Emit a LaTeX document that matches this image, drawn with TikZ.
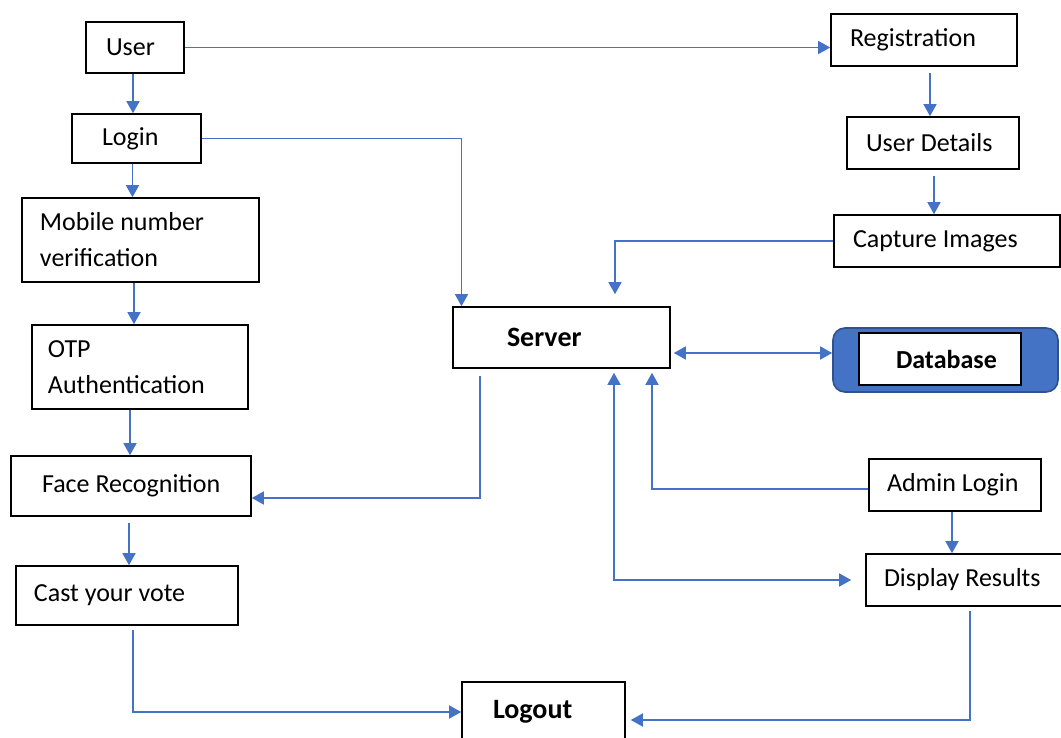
\documentclass[tikz,border=0pt]{standalone}
\usepackage{fontspec}
\setmainfont{Carlito}
\usetikzlibrary{arrows.meta}
\definecolor{flow}{HTML}{4472C4}
\definecolor{dbedge}{HTML}{2F528F}

\begin{document}
\begin{tikzpicture}[x=0.5pt,y=-0.5pt,
  box/.style={draw=black, line width=0.8pt, inner sep=0pt, align=flush left,
              font=\fontsize{13}{18}\selectfont},
  boldtext/.style={font=\fontsize{14}{18}\selectfont\bfseries},
  sz/.style 2 args={text width=#1, minimum height=#2},
  arr/.style={draw=flow, line width=0.7pt, -{Triangle[length=6pt,width=6.5pt]}},
  dbl/.style={draw=flow, line width=0.7pt,
              {Triangle[length=6pt,width=6.5pt]}-{Triangle[length=6pt,width=6.5pt]}}]

\useasboundingbox (0,0) rectangle (1061,738);
\fill[white] (0,0) rectangle (1061,738);
\clip (0,0) rectangle (1061,738);

% ---- user flow (left column) ----
\node[box, sz={49pt}{25.5pt}]    (user)   at (135,47.5)  {\hspace*{10pt}User};
\node[box, sz={64.5pt}{24.5pt}]  (login)  at (136.5,138.5) {\hspace*{15pt}Login};
\node[box, sz={118.5pt}{42pt}]   (mobile) at (140.5,240) {\hspace*{9pt}Mobile number\\\hspace*{9pt}verification};
\node[box, sz={108pt}{42pt}]     (otp)    at (140,367)   {\hspace*{8pt}OTP\\\hspace*{8pt}Authentication};
\node[box, sz={120pt}{30pt}]     (face)   at (131,486)   {\hspace*{15.5pt}Face Recognition};
\node[box, sz={111pt}{29.5pt}]   (cast)   at (127,595.5) {\hspace*{9pt}Cast your vote};

% ---- server and logout ----
\node[box, boldtext, sz={108.5pt}{30.5pt}] (server) at (561.5,337.5) {\hspace*{27pt}Server};
\node[box, boldtext, sz={81.5pt}{30pt}]    (logout) at (543.5,712)   {\hspace*{15.5pt}Logout};

% ---- registration flow (right column) ----
\node[box, sz={93pt}{26pt}]  (reg)     at (924,40)  {\hspace*{9.5pt}Registration};
\node[box, sz={86pt}{26pt}]  (details) at (933,143) {\hspace*{9.5pt}User Details};
\node[box, sz={113pt}{26pt}] (capture) at (947,241) {\hspace*{9.5pt}Capture Images};

% ---- database ----
\node[draw=dbedge, fill=flow, line width=0.8pt, rounded corners=6pt,
      minimum width=112.5pt, minimum height=32pt, inner sep=0pt] (db) at (945.5,360) {};
\node[box, fill=white, font=\fontsize{13}{18}\selectfont\bfseries, sz={81pt}{26pt}]
      (dbtext) at (940,359) {\hspace*{18.5pt}Database};

% ---- admin ----
\node[box, sz={86pt}{26pt}] (admin)   at (955,485) {\hspace*{9pt}Admin Login};
\node[box, sz={99pt}{26pt}] (display) at (965,580) {\hspace*{9pt}Display Results};

% ---- connectors ----
\draw[arr] ([xshift=-1pt]user.south) -- ([xshift=-1pt]user.south |- login.north);
\draw[arr] (user.east) -- (user.east -| reg.west);
\draw[arr] (login.east) -| ([xshift=-50pt]server.north);
\draw[arr] ([xshift=-2pt]login.south) -- ([xshift=-2pt]login.south |- mobile.north);
\draw[arr] ([xshift=-3.25pt]mobile.south) -- ([xshift=-3.25pt]mobile.south |- otp.north);
\draw[arr] ([xshift=-5pt]otp.south) -- ([xshift=-5pt]otp.south |- face.north);
\draw[arr, shorten <=3pt] ([xshift=-1pt]face.south) -- ([xshift=-1pt]face.south |- cast.north);
\draw[arr, shorten <=2pt] ([xshift=3pt]cast.south) |- (logout.west);
\draw[arr, shorten <=3.5pt] ([xshift=-40.75pt]server.south) |- ([yshift=-6pt]face.east);
\draw[arr, shorten >=6pt] (capture.west) -| ([xshift=26.75pt]server.north);
\draw[dbl, shorten <=1.5pt] ([yshift=-7.75pt]server.east) -- ([yshift=-7.75pt]server.east -| db.west);
\draw[arr, shorten >=2pt] ([yshift=-2pt]admin.west) -| ([xshift=45.25pt]server.south);
\draw[dbl, shorten <=2pt, shorten >=7pt] ([xshift=26.25pt]server.south) |- (display.west);
\draw[arr] ([xshift=-1.5pt]admin.south) -- ([xshift=-1.5pt]admin.south |- display.north);
\draw[arr, shorten <=2pt, shorten >=2.5pt] ([xshift=2.5pt]display.south) |- ([yshift=-4pt]logout.east);
\draw[arr, shorten <=3pt] ([xshift=3pt]reg.south) -- ([xshift=3pt]reg.south |- details.north);
\draw[arr, shorten <=3pt] ([xshift=0.5pt]details.south) -- ([xshift=0.5pt]details.south |- capture.north);

\end{tikzpicture}
\end{document}
